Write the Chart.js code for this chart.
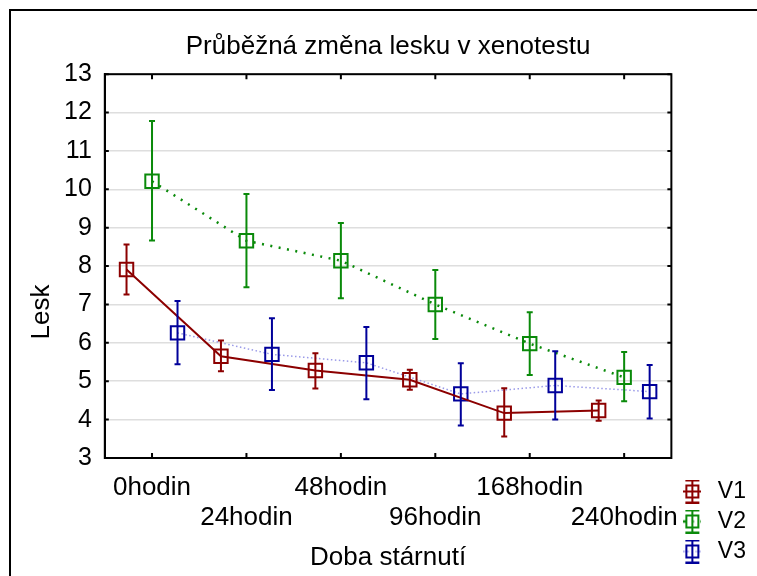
<!DOCTYPE html>
<html lang="cs">
<head>
    <meta charset="UTF-8">
    <title>Průběžná změna lesku v xenotestu</title>
    <script src="https://cdn.jsdelivr.net/npm/chart.js"></script>
    <style>
        body {
            margin: 0;
            background-color: #ffffff;
        }
        canvas {
            display: block;
        }
    </style>
</head>
<body>
    <canvas id="leskChart" width="757" height="576"></canvas>

    <script>
        // Data
        const kategorie = ['0hodin', '24hodin', '48hodin', '96hodin', '168hodin', '240hodin'];
        const osaY = [3, 4, 5, 6, 7, 8, 9, 10, 11, 12, 13];

        const v1Prumer = [7.91, 5.65, 5.28, 5.04, 4.17, 4.24];
        const v1Dolni  = [7.26, 5.26, 4.81, 4.78, 3.56, 3.97];
        const v1Horni  = [8.56, 6.06, 5.73, 5.30, 4.82, 4.50];

        const v2Prumer = [10.21, 8.66, 8.14, 7.00, 5.98, 5.10];
        const v2Dolni  = [8.67, 7.45, 7.16, 6.10, 5.16, 4.48];
        const v2Horni  = [11.78, 9.88, 9.12, 7.90, 6.80, 5.76];

        const v3Prumer = [6.26, 5.70, 5.48, 4.67, 4.89, 4.73];
        const v3Dolni  = [5.44, 4.77, 4.53, 3.85, 4.00, 4.03];
        const v3Horni  = [7.09, 6.64, 6.41, 5.47, 5.78, 5.42];

        const pismo = "'Liberation Sans', Arial, sans-serif";

        // posun řad uvnitř kategorie, barvy a styl čar
        const rady = [
            { nazev: 'V1', prumer: v1Prumer, dolni: v1Dolni, horni: v1Horni, posun: -0.27,
              barva: '#8c0000', cara: '#8c0000', sirka: 2, carkovani: [] },
            { nazev: 'V2', prumer: v2Prumer, dolni: v2Dolni, horni: v2Horni, posun: 0,
              barva: '#0a8a0a', cara: '#0a8a0a', sirka: 2.5, carkovani: [2, 6.5] },
            { nazev: 'V3', prumer: v3Prumer, dolni: v3Dolni, horni: v3Horni, posun: 0.27,
              barva: '#00009a', cara: '#9a9ae8', sirka: 1.5, carkovani: [1.5, 2.5] }
        ];

        // ikonka do legendy: čtvereček s chybovou úsečkou
        function ikona(r) {
            const c = document.createElement('canvas');
            c.width = 18;
            c.height = 24;
            const g = c.getContext('2d');
            g.strokeStyle = r.cara;
            g.lineWidth = r.sirka;
            g.setLineDash(r.carkovani);
            g.beginPath();
            g.moveTo(0, 12);
            g.lineTo(18, 12);
            g.stroke();
            g.setLineDash([]);
            g.strokeStyle = r.barva;
            g.lineWidth = 2;
            g.beginPath();
            g.moveTo(9, 1); g.lineTo(9, 23);
            g.moveTo(2, 1); g.lineTo(16, 1);
            g.moveTo(2, 23); g.lineTo(16, 23);
            g.stroke();
            g.strokeRect(3, 6, 12, 12);
            return c;
        }
        const ikony = rady.map(ikona);

        const chybovePlugin = {
            id: 'chyby',
            afterDatasetsDraw(chart) {
                const ctx = chart.ctx;
                const x = chart.scales.x;
                const y = chart.scales.y;
                const a = chart.chartArea;
                ctx.save();

                // chybové úsečky
                rady.forEach(r => {
                    ctx.strokeStyle = r.barva;
                    ctx.lineWidth = 2;
                    kategorie.forEach((k, i) => {
                        const px = x.getPixelForValue(i + r.posun);
                        const top = y.getPixelForValue(r.horni[i]);
                        const bot = y.getPixelForValue(r.dolni[i]);
                        ctx.beginPath();
                        ctx.moveTo(px, top); ctx.lineTo(px, bot);
                        ctx.moveTo(px - 3, top); ctx.lineTo(px + 3, top);
                        ctx.moveTo(px - 3, bot); ctx.lineTo(px + 3, bot);
                        ctx.stroke();
                    });
                });

                // rámeček grafu a vnitřní značky
                ctx.strokeStyle = '#000';
                ctx.lineWidth = 2;
                ctx.strokeRect(a.left, a.top, a.right - a.left, a.bottom - a.top);
                ctx.beginPath();
                osaY.forEach(v => {
                    const py = y.getPixelForValue(v);
                    ctx.moveTo(a.left, py); ctx.lineTo(a.left + 4, py);
                    ctx.moveTo(a.right, py); ctx.lineTo(a.right - 4, py);
                });
                kategorie.forEach((k, i) => {
                    const px = x.getPixelForValue(i);
                    ctx.moveTo(px, a.top); ctx.lineTo(px, a.top + 5);
                    ctx.moveTo(px, a.bottom); ctx.lineTo(px, a.bottom - 5);
                });
                ctx.stroke();

                // okraj celého obrázku
                ctx.beginPath();
                ctx.moveTo(10, chart.height); ctx.lineTo(10, 10); ctx.lineTo(chart.width, 10);
                ctx.stroke();

                // popis osy Y
                ctx.fillStyle = '#000';
                ctx.font = '26px ' + pismo;
                ctx.textAlign = 'center';
                ctx.textBaseline = 'middle';
                ctx.translate(42, 312);
                ctx.rotate(-Math.PI / 2);
                ctx.fillText('Lesk', 0, 0);
                ctx.restore();
            }
        };

        const ctx = document.getElementById('leskChart').getContext('2d');
        const leskChart = new Chart(ctx, {
            type: 'line',
            data: {
                datasets: rady.map(r => ({
                    label: r.nazev,
                    data: kategorie.map((k, i) => ({ x: i + r.posun, y: r.prumer[i] })),
                    borderColor: r.cara,
                    borderWidth: r.sirka,
                    borderDash: r.carkovani,
                    tension: 0,
                    fill: false,
                    pointStyle: 'rect',
                    pointRadius: 9.5,
                    pointHoverRadius: 9.5,
                    pointBorderWidth: 2,
                    pointBorderColor: r.barva,
                    pointBackgroundColor: 'rgba(0,0,0,0)'
                }))
            },
            options: {
                responsive: false,
                animation: false,
                devicePixelRatio: 1,
                layout: {
                    padding: { top: 21, left: 51, right: 1, bottom: 6 }
                },
                plugins: {
                    title: {
                        display: true,
                        text: 'Průběžná změna lesku v xenotestu',
                        color: '#000',
                        fullSize: false,
                        font: { family: pismo, size: 26, weight: 'normal' },
                        padding: { top: 10, bottom: 12 }
                    },
                    legend: {
                        position: 'right',
                        align: 'end',
                        labels: {
                            color: '#000',
                            font: { family: pismo, size: 23 },
                            usePointStyle: true,
                            pointStyleWidth: 28,
                            padding: 7,
                            generateLabels(chart) {
                                const polozky = Chart.defaults.plugins.legend.labels.generateLabels(chart);
                                polozky.forEach((p, i) => { p.pointStyle = ikony[i]; });
                                return polozky;
                            }
                        }
                    },
                    tooltip: { enabled: false }
                },
                scales: {
                    x: {
                        type: 'linear',
                        min: -0.5,
                        max: 5.5,
                        afterBuildTicks(s) {
                            s.ticks = kategorie.map((k, i) => ({ value: i }));
                        },
                        ticks: {
                            color: '#000',
                            maxRotation: 0,
                            autoSkip: false,
                            padding: 15,
                            font: { family: pismo, size: 26, lineHeight: 1.15 },
                            callback: function(value) {
                                const k = kategorie[value];
                                return value % 2 === 0 ? [k, ''] : ['', k];
                            }
                        },
                        grid: { display: false, drawTicks: false },
                        border: { color: '#000', width: 2 },
                        title: {
                            display: true,
                            text: 'Doba stárnutí',
                            color: '#000',
                            font: { family: pismo, size: 26 },
                            padding: { top: -6, bottom: -3 }
                        }
                    },
                    y: {
                        min: 3,
                        max: 13,
                        afterBuildTicks(s) {
                            s.ticks = osaY.map(v => ({ value: v }));
                        },
                        ticks: {
                            color: '#000',
                            padding: 13,
                            font: { family: pismo, size: 25 }
                        },
                        grid: { color: '#dedede', lineWidth: 1.5, drawTicks: false },
                        border: { color: '#000', width: 2 }
                    }
                }
            },
            plugins: [chybovePlugin]
        });
    </script>
</body>
</html>
